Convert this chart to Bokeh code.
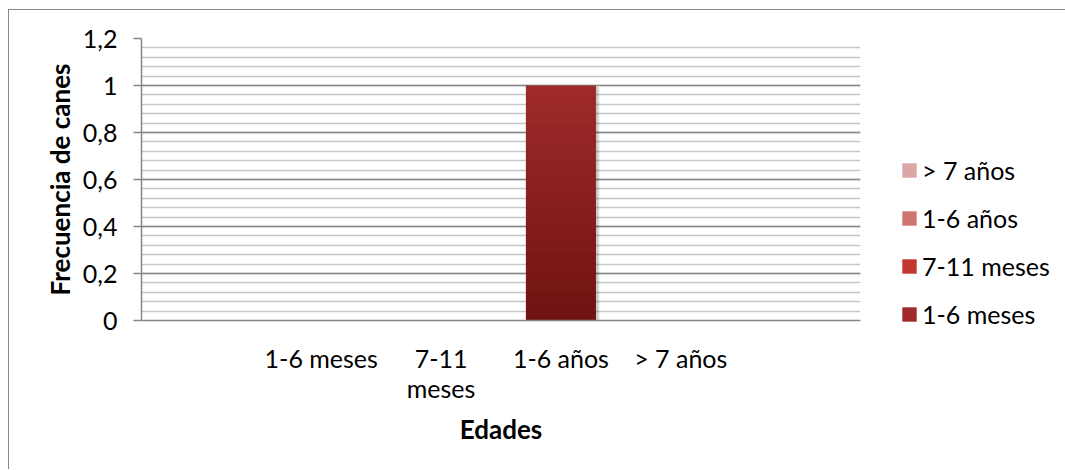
import numpy as np
from bokeh.plotting import figure
from bokeh.layouts import row
from bokeh.models import (FactorRange, FixedTicker, Legend, LegendItem,
                          ColumnDataSource)
from bokeh.transform import dodge
from bokeh.embed import file_html
from bokeh.resources import INLINE

# Age groups on the x axis
categories = ["1-6 meses", "7-11 meses", "1-6 años", "> 7 años"]
category_label_text = {"7-11 meses": "7-11\nmeses"}

# Stacked series (one per age group) and their values per category
series_names = ["1-6 meses", "7-11 meses", "1-6 años", "> 7 años"]
serie_1_6_meses = [0, 0, 1, 0]
serie_7_11_meses = [0, 0, 0, 0]
serie_1_6_anos = [0, 0, 0, 0]
serie_mas_7_anos = [0, 0, 0, 0]
series_colors = ["#a02b2a", "#c0382f", "#d07472", "#dba6a5"]

y_ticks = [0, 0.2, 0.4, 0.6, 0.8, 1, 1.2]
y_tick_labels = ["0", "0,2", "0,4", "0,6", "0,8", "1", "1,2"]

FONT = "Lato"
TXT = "25px"
TITLE = "26px"
GRID_DARK = "#878787"
GRID_LIGHT = "#c6c6c6"
BAR_W = 0.585

factors = [category_label_text.get(c, c) for c in categories]
series_values = [serie_1_6_meses, serie_7_11_meses, serie_1_6_anos, serie_mas_7_anos]
keys = ["s%d" % i for i in range(len(series_names))]
data = {"cat": factors}
for k, vals in zip(keys, series_values):
    data[k] = vals
source = ColumnDataSource(data)
totals = [sum(v) for v in zip(*series_values)]

p = figure(
    x_range=FactorRange(*factors, range_padding=1, range_padding_units="absolute"),
    y_range=(0, 1.2),
    width=891, height=459,
    output_backend="svg", toolbar_location=None,
    min_border_left=132, min_border_right=40,
    min_border_top=28, min_border_bottom=149,
)
p.outline_line_color = None
p.background_fill_color = "white"
p.border_fill_color = "white"

# soft drop shadow behind the columns
for off, alpha in [(0.03, 0.10), (0.018, 0.12)]:
    sh = ColumnDataSource(dict(cat=factors,
                               top=[max(t - 0.006, 0) for t in totals]))
    p.vbar(x=dodge("cat", off, range=p.x_range), top="top", bottom=0,
           width=BAR_W, source=sh, fill_color="black", fill_alpha=alpha,
           line_color=None)

renderers = p.vbar_stack(keys, x="cat", width=BAR_W, source=source,
                         color=series_colors, line_color=None)

# vertical shading: darker toward the base of each segment
N = 24
gx, gb, gt = [], [], []
for ci, cat in enumerate(factors):
    base = 0.0
    for vals in series_values:
        v = vals[ci]
        if v > 0:
            for k in range(1, N + 1):
                gx.append(cat)
                gb.append(base)
                gt.append(base + v * k / N)
        base += v
p.vbar(x=gx, bottom=gb, top=gt, width=BAR_W, fill_color="black",
       fill_alpha=0.012, line_color=None)

# y axis
p.yaxis.ticker = FixedTicker(ticks=y_ticks,
                             minor_ticks=[round(x, 2) for x in np.arange(0, 1.2001, 0.04)])
p.yaxis.major_label_overrides = dict(zip(y_ticks, y_tick_labels))
p.yaxis.minor_tick_line_color = None
p.yaxis.major_tick_in = 0
p.yaxis.major_tick_out = 8
p.yaxis.major_tick_line_color = GRID_DARK
p.yaxis.major_tick_line_width = 1.5
p.yaxis.axis_line_color = GRID_DARK
p.yaxis.axis_line_width = 1.5
p.yaxis.major_label_standoff = 16
p.yaxis.major_label_text_font = FONT
p.yaxis.major_label_text_font_size = TXT
p.yaxis.major_label_text_color = "black"
p.yaxis.axis_label = "Frecuencia de canes"
p.yaxis.axis_label_text_font = FONT
p.yaxis.axis_label_text_font_size = TITLE
p.yaxis.axis_label_text_font_style = "bold"
p.yaxis.axis_label_text_color = "black"
p.yaxis.axis_label_standoff = 4

# x axis
p.xaxis.major_tick_line_color = None
p.xaxis.minor_tick_line_color = None
p.xaxis.axis_line_color = GRID_DARK
p.xaxis.axis_line_width = 1.5
p.xaxis.major_label_standoff = 16
p.xaxis.major_label_text_font = FONT
p.xaxis.major_label_text_font_size = TXT
p.xaxis.major_label_text_line_height = 1.0
p.xaxis.major_label_text_color = "black"
p.xaxis.major_label_orientation = "horizontal"
p.xaxis.axis_label = "Edades"
p.xaxis.axis_label_text_font = FONT
p.xaxis.axis_label_text_font_size = TITLE
p.xaxis.axis_label_text_font_style = "bold"
p.xaxis.axis_label_text_color = "black"
p.xaxis.axis_label_standoff = 7

# grid
p.xgrid.grid_line_color = None
p.ygrid.grid_line_color = GRID_DARK
p.ygrid.grid_line_width = 1.5
p.ygrid.minor_grid_line_color = GRID_LIGHT
p.ygrid.minor_grid_line_width = 1.5

# legend panel to the right of the plot area
q = figure(width=180, height=459, x_range=(0, 1), y_range=(0, 1),
           x_axis_type=None, y_axis_type=None,
           output_backend="svg", toolbar_location=None,
           min_border_left=0, min_border_right=0,
           min_border_top=0, min_border_bottom=0)
q.outline_line_color = None
q.xgrid.grid_line_color = None
q.ygrid.grid_line_color = None
q.background_fill_color = "white"
q.border_fill_color = "white"

# zero-size keys, one per series colour
swatches = [q.vbar(x=[0], top=[0], width=0, fill_color=c, line_color=None)
            for c in series_colors]
items = [LegendItem(label=name, renderers=[r])
         for name, r in reversed(list(zip(series_names, swatches)))]
legend = Legend(items=items, location="top_left", orientation="vertical",
                title=" ", title_text_font_size="10px", title_standoff=106,
                border_line_color=None, background_fill_alpha=0,
                padding=0, margin=0, spacing=18,
                glyph_width=18, glyph_height=18, label_height=28,
                label_standoff=4, label_text_font=FONT,
                label_text_font_size=TXT, label_text_color="black")
q.add_layout(legend, "left")

layout = row(p, q)
layout.margin = (9, 0, 0, 8)
layout.styles = {"border-left": "1.5px solid #878787",
                 "border-top": "1.5px solid #878787",
                 "max-width": "none", "overflow": "visible"}

open("out.html", "w").write(file_html(layout, INLINE))
